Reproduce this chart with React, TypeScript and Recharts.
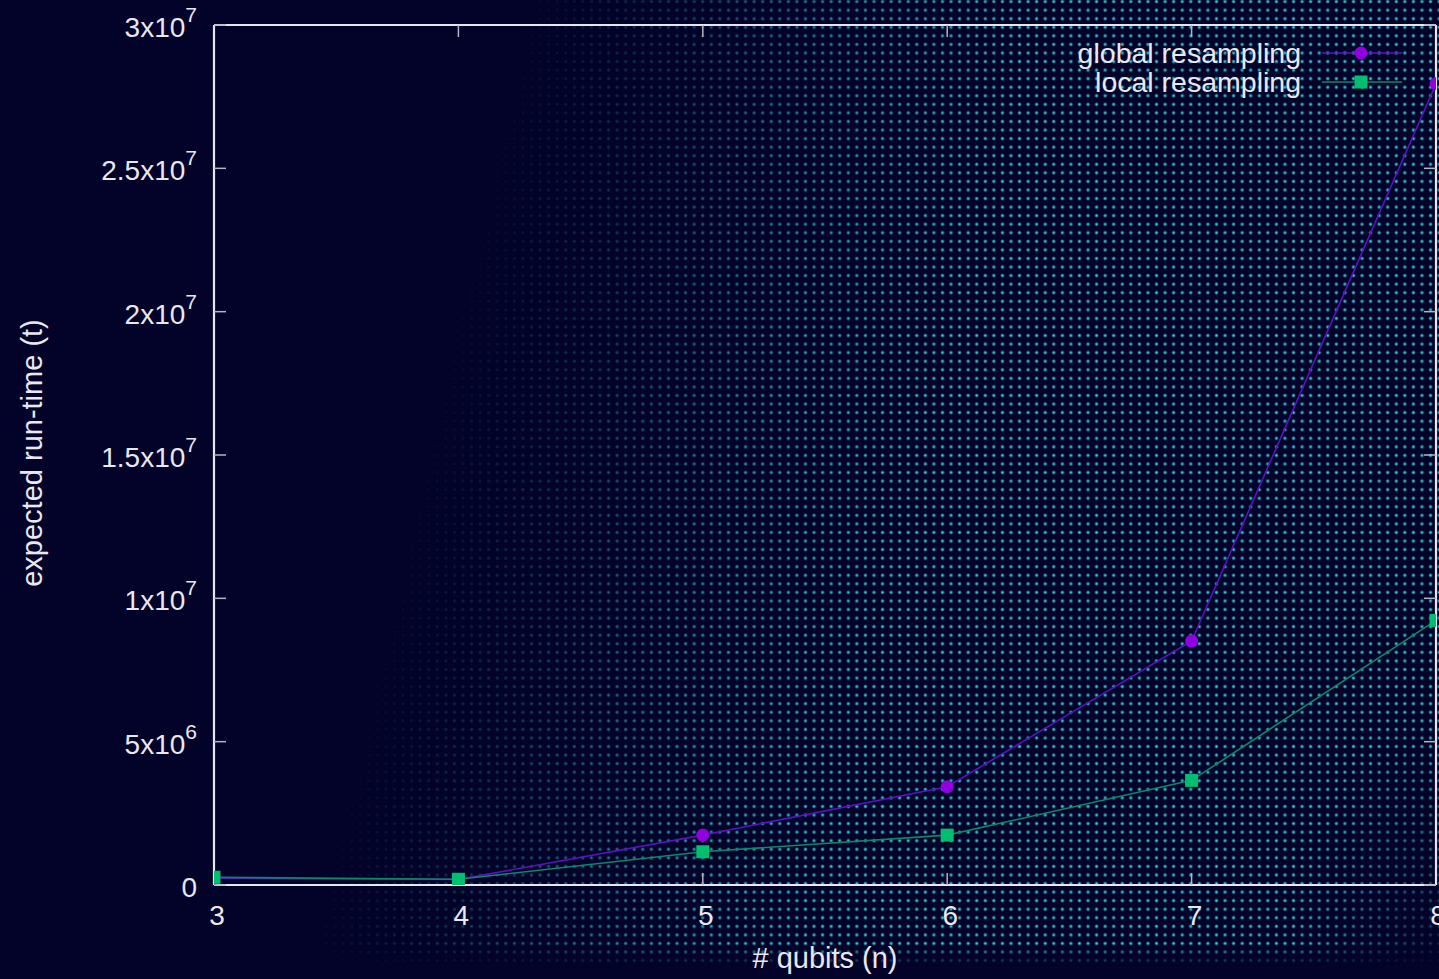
import React from 'react';
import { LineChart, Line, XAxis, YAxis, Legend } from 'recharts';

const qubits = [3, 4, 5, 6, 7, 8];
const globalResampling = [2.4e5, 1.9e5, 1.74e6, 3.43e6, 8.51e6, 2.795e7];
const localResampling = [2.7e5, 2.0e5, 1.16e6, 1.74e6, 3.65e6, 9.23e6];
const xTicks = [3, 4, 5, 6, 7, 8];
const yTicks = [0, 5e6, 1e7, 1.5e7, 2e7, 2.5e7, 3e7];
const seriesNames = ['global resampling', 'local resampling'];

const data = qubits.map((n, i) => ({ n, global: globalResampling[i], local: localResampling[i] }));

const FONT = '"Liberation Sans", Arial, Helvetica, sans-serif';
const TEXT = '#e8e8f0';
const FRAME = '#e6e6ee';
const TICK = '#b4b4c2';
const PURPLE_MARK = '#9000e0';
const PURPLE_LINE = '#5c10c6';
const GREEN_MARK = '#00c070';
const GREEN_LINE = '#0d876a';

function fmtY(v: number): [string, string] {
  if (v === 0) return ['0', ''];
  const exp = Math.floor(Math.log10(v) + 1e-9);
  const mant = Math.round((v / Math.pow(10, exp)) * 100) / 100;
  return [`${mant}x10`, `${exp}`];
}

const YTick = (props: any) => {
  const { x, y, payload } = props;
  const [base, sup] = fmtY(payload.value);
  return (
    <text x={x} y={y + 12} textAnchor="end" fill={TEXT} fontSize={28} fontFamily={FONT}>
      <tspan>{base}</tspan>
      {sup ? (
        <tspan dy={-15} fontSize={21}>
          {sup}
        </tspan>
      ) : null}
    </text>
  );
};

const XTick = (props: any) => {
  const { x, y, payload } = props;
  return (
    <text x={x + 3} y={y} textAnchor="middle" fill={TEXT} fontSize={28} fontFamily={FONT}>
      {payload.value}
    </text>
  );
};

const NoTick = () => <g />;

const SquareDot = (props: any) => {
  const { cx, cy } = props;
  if (cx == null || cy == null) return <g />;
  return <rect x={cx - 6.5} y={cy - 6.5} width={13} height={13} fill={GREEN_MARK} />;
};

const LegendContent = () => (
  <svg width={400} height={75} style={{ display: 'block', overflow: 'visible' }}>
    <text x={261} y={33} textAnchor="end" fill={TEXT} fontSize={28.5} fontFamily={FONT}>
      {seriesNames[0]}
    </text>
    <line x1={282} x2={362} y1={23} y2={23} stroke={PURPLE_LINE} strokeWidth={1.6} />
    <circle cx={321} cy={23} r={6.5} fill={PURPLE_MARK} />
    <text x={261} y={62} textAnchor="end" fill={TEXT} fontSize={28.5} fontFamily={FONT}>
      {seriesNames[1]}
    </text>
    <line x1={282} x2={362} y1={52} y2={52} stroke={GREEN_LINE} strokeWidth={1.6} />
    <rect x={314.5} y={45.5} width={13} height={13} fill={GREEN_MARK} />
  </svg>
);

const XLabel = (props: any) => {
  const vb = props.viewBox || {};
  return (
    <text x={vb.x + vb.width / 2} y={vb.y + vb.height - 11} textAnchor="middle" fill={TEXT} fontSize={29} fontFamily={FONT}>
      # qubits (n)
    </text>
  );
};

const YLabel = (props: any) => {
  const vb = props.viewBox || {};
  const cx = vb.x + 42;
  const cy = vb.y + vb.height / 2 - 2;
  return (
    <text x={cx} y={cy} transform={`rotate(-90 ${cx} ${cy})`} textAnchor="middle" fill={TEXT} fontSize={29} fontFamily={FONT}>
      expected run-time (t)
    </text>
  );
};

export default function App() {
  const W = 1439;
  const H = 979;
  const lineFrame = { stroke: FRAME, strokeWidth: 2.2 };
  const tickLineStyle = { stroke: TICK, strokeWidth: 1.5 };
  return (
    <div style={{ position: 'absolute', left: 0, top: 0, width: W, height: H, background: '#030228', overflow: 'hidden' }}>
      <style>{`body{margin:0;background:#030228;}`}</style>
      <div
        style={{
          position: 'absolute',
          inset: 0,
          WebkitMaskImage:
            'linear-gradient(103deg, transparent 31%, rgba(0,0,0,0.3) 41%, rgba(0,0,0,0.75) 52%, #000 62%)',
          maskImage: 'linear-gradient(103deg, transparent 31%, rgba(0,0,0,0.3) 41%, rgba(0,0,0,0.75) 52%, #000 62%)',
        }}
      >
        <div
          style={{
            position: 'absolute',
            inset: 0,
            WebkitMaskImage: 'linear-gradient(to bottom, #000 0%, #000 96.4%, transparent 98.8%)',
            maskImage: 'linear-gradient(to bottom, #000 0%, #000 96.4%, transparent 98.8%)',
            backgroundImage:
              'radial-gradient(circle, rgba(80,215,220,1) 0px, rgba(50,190,205,0.75) 1.1px, rgba(40,170,190,0) 2.3px)',
            backgroundSize: '8.57px 8.57px',
            backgroundPosition: '-3.7px -2.7px',
          }}
        />
      </div>
      <div
        style={{
          position: 'absolute',
          inset: 0,
          background: 'radial-gradient(ellipse 150px 260px at 1439px 979px, rgba(3,2,40,0.85), rgba(3,2,40,0))',
        }}
      />
      <div style={{ position: 'absolute', left: 0, top: 0 }}>
        <LineChart width={W} height={H} data={data} margin={{ top: 25, right: 3, bottom: 0, left: 0 }}>
          {/* main bottom axis: frame line + labels */}
          <XAxis
            xAxisId="b"
            dataKey="n"
            type="number"
            domain={[3, 8]}
            ticks={xTicks}
            allowDataOverflow
            height={94}
            tickSize={0}
            tickMargin={40}
            tick={<XTick />}
            axisLine={lineFrame}
            tickLine={false}
            label={<XLabel />}
          />
          {/* bottom mirror: inward ticks */}
          <XAxis
            xAxisId="bm"
            orientation="bottom"
            mirror
            dataKey="n"
            type="number"
            domain={[3, 8]}
            ticks={xTicks}
            allowDataOverflow
            height={20}
            tickSize={12}
            tick={<NoTick />}
            axisLine={false}
            tickLine={tickLineStyle}
          />
          {/* top mirror: frame line + inward ticks */}
          <XAxis
            xAxisId="tm"
            orientation="top"
            mirror
            dataKey="n"
            type="number"
            domain={[3, 8]}
            ticks={xTicks}
            allowDataOverflow
            height={20}
            tickSize={12}
            tick={<NoTick />}
            axisLine={lineFrame}
            tickLine={tickLineStyle}
          />
          {/* main left axis: frame line + labels */}
          <YAxis
            yAxisId="l"
            type="number"
            domain={[0, 3e7]}
            ticks={yTicks}
            allowDataOverflow
            width={214}
            tickSize={0}
            tickMargin={17}
            tick={<YTick />}
            axisLine={lineFrame}
            tickLine={false}
            label={<YLabel />}
          />
          {/* left mirror: inward ticks */}
          <YAxis
            yAxisId="lm"
            orientation="left"
            mirror
            type="number"
            domain={[0, 3e7]}
            ticks={yTicks}
            allowDataOverflow
            width={20}
            tickSize={12}
            tick={<NoTick />}
            axisLine={false}
            tickLine={tickLineStyle}
          />
          {/* right mirror: frame line + inward ticks */}
          <YAxis
            yAxisId="rm"
            orientation="right"
            mirror
            type="number"
            domain={[0, 3e7]}
            ticks={yTicks}
            allowDataOverflow
            width={20}
            tickSize={12}
            tick={<NoTick />}
            axisLine={lineFrame}
            tickLine={tickLineStyle}
          />
          <Legend
            layout="horizontal"
            verticalAlign="middle"
            align="center"
            content={<LegendContent />}
            wrapperStyle={{ position: 'absolute', left: 1040, top: 30, width: 400, height: 75 }}
          />
          {/* invisible carriers so the mirror axes get their scales */}
          <Line xAxisId="bm" yAxisId="lm" dataKey="local" stroke="none" dot={false} activeDot={false} legendType="none" isAnimationActive={false} />
          <Line xAxisId="tm" yAxisId="rm" dataKey="local" stroke="none" dot={false} activeDot={false} legendType="none" isAnimationActive={false} />
          <Line
            xAxisId="b"
            yAxisId="l"
            name={seriesNames[0]}
            type="linear"
            dataKey="global"
            stroke={PURPLE_LINE}
            strokeWidth={1.6}
            dot={{ r: 6.5, fill: PURPLE_MARK, stroke: 'none' }}
            activeDot={false}
            isAnimationActive={false}
          />
          <Line
            xAxisId="b"
            yAxisId="l"
            name={seriesNames[1]}
            type="linear"
            dataKey="local"
            stroke={GREEN_LINE}
            strokeWidth={1.6}
            dot={<SquareDot />}
            activeDot={false}
            isAnimationActive={false}
          />
        </LineChart>
      </div>
    </div>
  );
}
